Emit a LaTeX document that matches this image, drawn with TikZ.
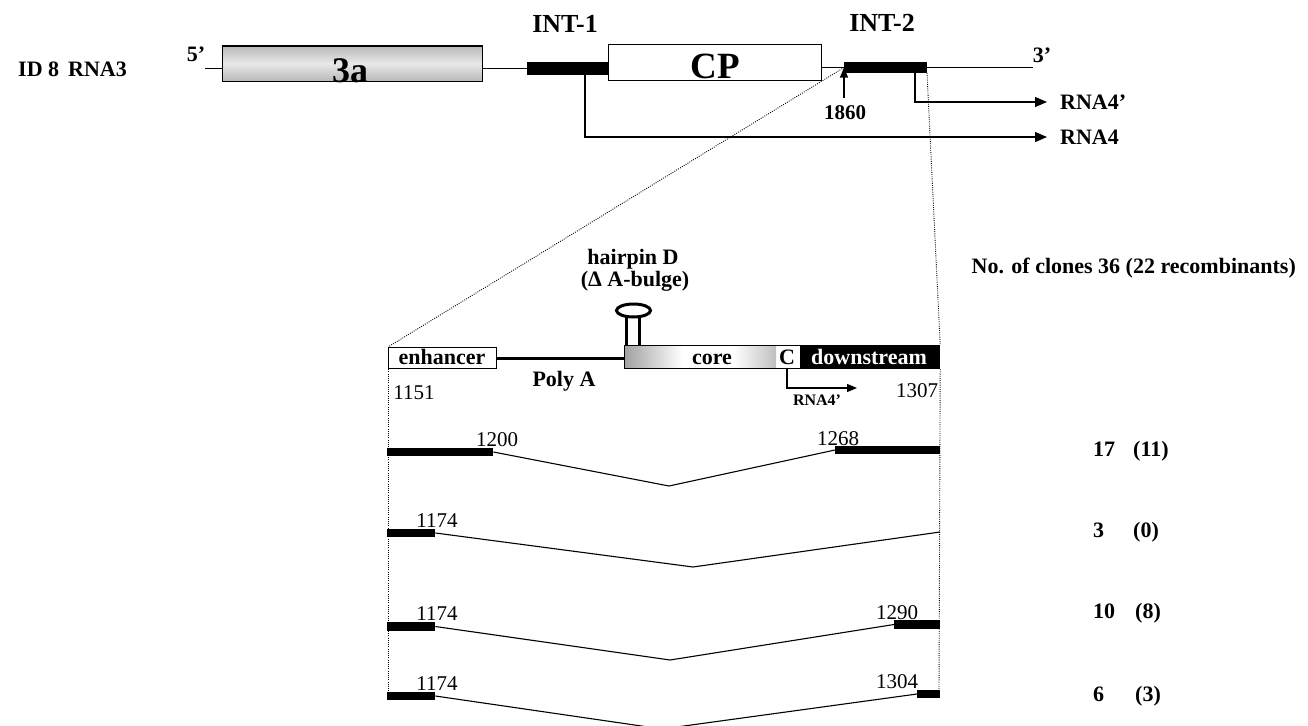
\documentclass[tikz,border=0pt]{standalone}
\usepackage{fontspec}
\setmainfont{Liberation Serif}
\usetikzlibrary{arrows.meta}
\begin{document}
\begin{tikzpicture}[x=1pt,y=-1pt,
  thinl/.style={line width=1.1pt},
  barbox/.style={fill=black, draw=none, inner sep=0pt, anchor=west},
  dots/.style={line width=0.9pt, dash pattern=on 0.9pt off 1.3pt},
  lblb/.style={font=\bfseries\fontsize{#1}{#1}\selectfont, inner sep=0pt, anchor=base},
  lblr/.style={font=\fontsize{#1}{#1}\selectfont, inner sep=0pt, anchor=base},
  arr/.style={line width=1.1pt, -{Triangle[length=12pt,width=10pt]}},
  arrs/.style={line width=1.1pt, -{Triangle[length=10pt,width=8pt]}},
  gbox/.style={draw, line width=1.2pt, inner sep=0pt, anchor=north west},
  hpin/.style={line width=3pt},
]
\useasboundingbox (0,0) rectangle (1308,725);
\clip (0,0) rectangle (1308,725);

% ---------- top: RNA3 ----------
\node[lblb=22, anchor=base west] (id) at (18,76) {ID 8\hspace{9pt}RNA3};
\node[lblb=22] (five) at (196,62) {5’};
\node[lblb=22] (three) at (1042,63) {3’};
\node[gbox, minimum width=260pt, minimum height=35pt,
      top color=gray!55, bottom color=gray!55, middle color=gray!18] (b3a) at (222,45.5) {};
\node[lblb=36] (t3a) at (350,82) {3a};
\node[barbox, minimum width=81pt, minimum height=12pt] (int1) at (527,68.5) {};
\node[gbox, minimum width=213pt, minimum height=36pt, fill=white] (cp) at (608,44) {};
\node[lblb=37] (tcp) at (715,78) {CP};
\node[barbox, minimum width=83pt, minimum height=11pt] (int2) at (844,67.5) {};
\coordinate (bb5) at (205,68.5);
\coordinate (bb3) at (1033,67.5);
\draw[thinl] (bb5) -- (b3a.west |- bb5);
\draw[thinl] (b3a.east |- int1.west) -- (int1.west);
\draw[thinl] (cp.east |- int2.west) -- (int2.west);
\draw[thinl] (int2.east) -- (bb3);
\node[lblb=26] (lint1) at (565,33) {INT-1};
\node[lblb=26] (lint2) at (882,32) {INT-2};

% branches
\coordinate (br4) at (585,74.5);
\coordinate (br4p) at (915,73);
\node[lblb=22, anchor=base west] (rna4p) at (1060,109.5) {RNA4’};
\node[lblb=22, anchor=base west] (rna4) at (1060,144.5) {RNA4};
\draw[arr] (br4) |- (1047,137);
\draw[arr] (br4p) |- (1047,102);

% 1860
\node[lblb=21] (n1860) at (845,119) {1860};
\draw[arrs] (844,98) -- (int2.west);

% ---------- middle: enlarged region ----------
\node[lblb=22] (hp) at (633,264) {hairpin D};
\node[lblb=22] (hpb) at (635,286) {(Δ A-bulge)};
\node[lblb=22, anchor=base east] (clones) at (1296,273) {No. of clones 36 (22 recombinants)};

\fill[left color=gray!75, right color=white] (624,345) rectangle (682,368);
\fill[left color=white, right color=gray!50] (733,345) rectangle (776,368);
\node[gbox, minimum width=108pt, minimum height=21pt, fill=white] (enh) at (388,347) {};
\node[lblb=22] (tenh) at (442,364) {enhancer};
\node[gbox, minimum width=176pt, minimum height=23pt] (core) at (624,345) {};
\node[lblb=22] (tcore) at (712,364) {core};
\node[lblb=22] (tc) at (787,364) {C};
\node[gbox, minimum width=139pt, minimum height=23pt, fill=black] (down) at (800,345) {};
\node[lblb=22, text=white] (tdown) at (869,364) {downstream};
\draw[line width=3pt] (enh.east) -- (enh.east -| core.west);
\node[lblb=22] (polya) at (564,386) {Poly A};

% hairpin
\draw[hpin] (633.5,310.5) ellipse [x radius=17, y radius=6.5];
\draw[hpin] (626,316) -- (626,345);
\draw[hpin] (639,316) -- (639,345);

% RNA4' small arrow
\node[lblb=16] (rna4s) at (817,405) {RNA4’};
\coordinate (cdrop) at (787,368);
\coordinate (ctip) at (857,388);
\draw[arrs] (cdrop) |- (ctip);

\node[lblr=21] (n1151) at (414,399) {1151};
\node[lblr=21] (n1307) at (917,397) {1307};

% dotted zoom lines
\draw[dots] (int2.west) -- (enh.north west);
\draw[dots] (927,73) -- (down.north east);
\coordinate (lbot) at (388,697);
\coordinate (rbot) at (939,690);
\draw[dots] (enh.south west) -- (lbot);
\draw[dots] (down.south east) -- (rbot);

% ---------- rows ----------
% row 1
\node[barbox, minimum width=106pt, minimum height=8.5pt] (r1L) at (387,452) {};
\node[barbox, minimum width=105pt, minimum height=8.5pt] (r1R) at (835,450) {};
\coordinate (v1) at (669,486);
\draw[thinl] (r1L.east) -- (v1) -- (r1R.west);
\node[lblr=21] (l1200) at (497,446) {1200};
\node[lblr=21] (l1268) at (838,445) {1268};
% row 2
\node[barbox, minimum width=48pt, minimum height=8.5pt] (r2L) at (387,533) {};
\coordinate (v2) at (693,567);
\coordinate (r2R) at (940,532);
\draw[thinl] (r2L.east) -- (v2) -- (r2R);
\node[lblr=21] (l1174a) at (437,527) {1174};
% row 3
\node[barbox, minimum width=48pt, minimum height=8.5pt] (r3L) at (387,626.5) {};
\node[barbox, minimum width=46pt, minimum height=8.5pt] (r3R) at (894,624.5) {};
\coordinate (v3) at (670,660);
\draw[thinl] (r3L.east) -- (v3) -- (r3R.west);
\node[lblr=21] (l1174b) at (437,620) {1174};
\node[lblr=21] (l1290) at (897,619) {1290};
% row 4
\node[barbox, minimum width=48pt, minimum height=8.5pt] (r4L) at (387,696) {};
\node[barbox, minimum width=23pt, minimum height=8.5pt] (r4R) at (917,694) {};
\coordinate (v4) at (662,729);
\draw[thinl] (r4L.east) -- (v4) -- (r4R.west);
\node[lblr=21] (l1174c) at (437,690) {1174};
\node[lblr=21] (l1304) at (897,688) {1304};

% counts
\node[lblb=22, anchor=base west] (c1a) at (1093,456) {17};
\node[lblb=22, anchor=base west] (c1b) at (1133,456) {(11)};
\node[lblb=22, anchor=base west] (c2a) at (1093,537) {3};
\node[lblb=22, anchor=base west] (c2b) at (1133,537) {(0)};
\node[lblb=22, anchor=base west] (c3a) at (1093,618) {10};
\node[lblb=22, anchor=base west] (c3b) at (1135,618) {(8)};
\node[lblb=22, anchor=base west] (c4a) at (1093,701) {6};
\node[lblb=22, anchor=base west] (c4b) at (1135,701) {(3)};
\end{tikzpicture}
\end{document}
